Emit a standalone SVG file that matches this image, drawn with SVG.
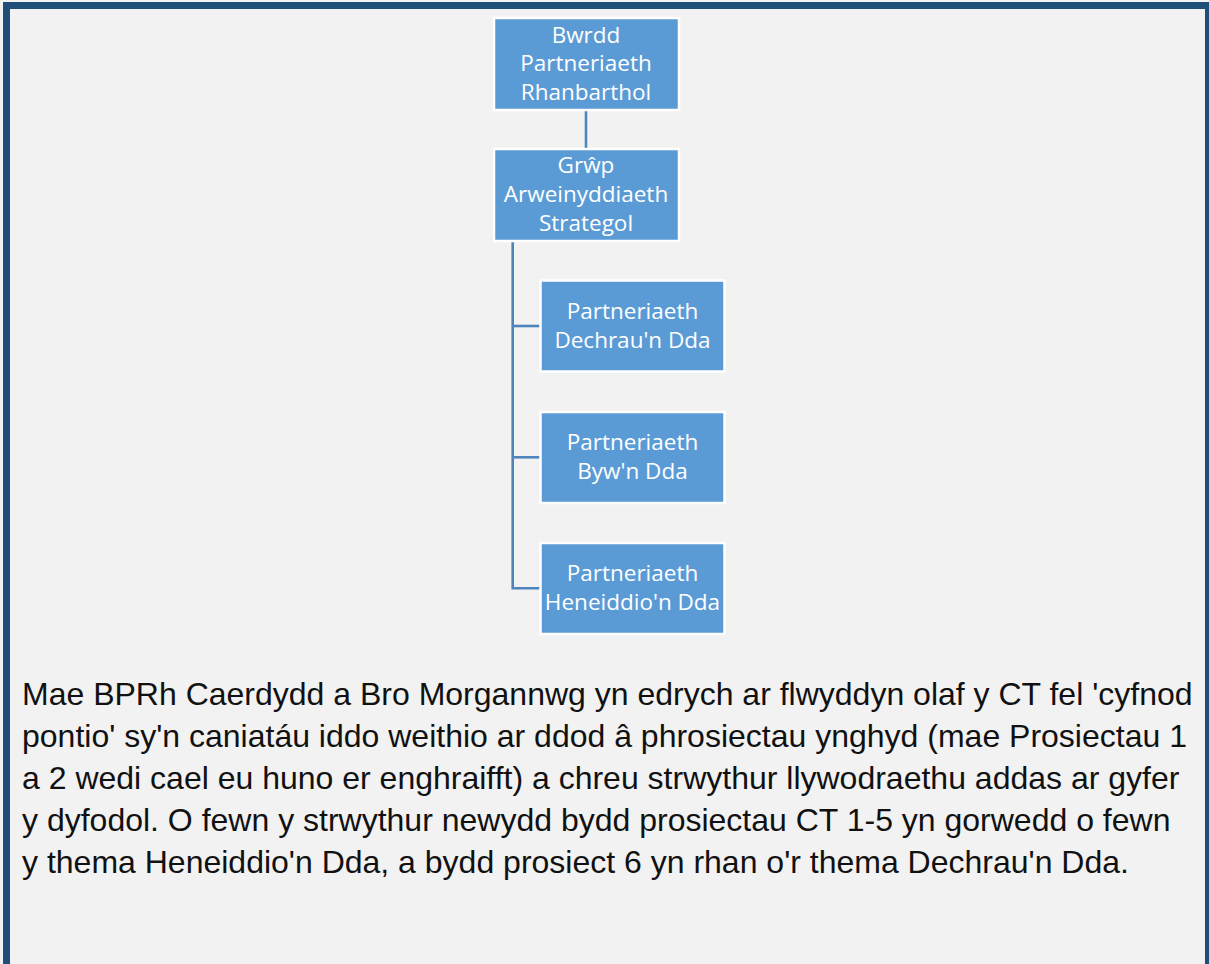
<svg xmlns="http://www.w3.org/2000/svg" width="1209" height="964" viewBox="0 0 1209 964">
<style>
.box{fill:#5b9bd5;stroke:#ffffff;stroke-width:2.5}
.bt{font-family:"Open Sans","Noto Sans",sans-serif;font-size:22.5px;fill:#ffffff;text-anchor:middle}
.conn{stroke:#4f83bd;stroke-width:2.6;fill:none}
.body{font-family:"Liberation Sans",Arial,sans-serif;font-size:32px;fill:#111111}
.frame{fill:#1f4e79}
</style>
<rect x="0" y="0" width="1209" height="964" fill="#f2f2f2"/>
<rect class="frame" x="3" y="2" width="1206" height="7"/>
<rect class="frame" x="3" y="2" width="7" height="962"/>
<rect class="frame" x="1205" y="2" width="4" height="962"/>
<g id="connectors">
<line class="conn" x1="586" y1="111" x2="586" y2="148"/>
<polyline class="conn" points="512.7,242 512.7,588.3 540,588.3"/>
<line class="conn" x1="512.7" y1="326" x2="540" y2="326"/>
<line class="conn" x1="512.7" y1="457.3" x2="540" y2="457.3"/>
</g>
<g id="node-bwrdd">
<rect class="box" x="494" y="18" width="185" height="92"/>
<text class="bt" x="586" y="42.7">Bwrdd</text>
<text class="bt" x="586" y="71">Partneriaeth</text>
<text class="bt" x="586" y="100">Rhanbarthol</text>
</g>
<g id="node-grwp">
<rect class="box" x="494" y="149" width="185" height="92"/>
<text class="bt" x="586" y="172.7">Grŵp</text>
<text class="bt" x="586" y="201.7">Arweinyddiaeth</text>
<text class="bt" x="586" y="231">Strategol</text>
</g>
<g id="node-dechrau">
<rect class="box" x="540.5" y="280.5" width="184" height="91"/>
<text class="bt" x="632.5" y="319.3">Partneriaeth</text>
<text class="bt" x="632.5" y="347.7">Dechrau'n Dda</text>
</g>
<g id="node-byw">
<rect class="box" x="540.5" y="412" width="184" height="91"/>
<text class="bt" x="632.5" y="450">Partneriaeth</text>
<text class="bt" x="632.5" y="479">Byw'n Dda</text>
</g>
<g id="node-heneiddio">
<rect class="box" x="540.5" y="543" width="184" height="91"/>
<text class="bt" x="632.5" y="581">Partneriaeth</text>
<text class="bt" x="632.5" y="610">Heneiddio'n Dda</text>
</g>
<g id="body-text">
<text class="body" x="22" y="705">Mae BPRh Caerdydd a Bro Morgannwg yn edrych ar flwyddyn olaf y CT fel 'cyfnod</text>
<text class="body" x="22" y="747">pontio' sy'n caniatáu iddo weithio ar ddod â phrosiectau ynghyd (mae Prosiectau 1</text>
<text class="body" x="22" y="789">a 2 wedi cael eu huno er enghraifft) a chreu strwythur llywodraethu addas ar gyfer</text>
<text class="body" x="22" y="831">y dyfodol. O fewn y strwythur newydd bydd prosiectau CT 1-5 yn gorwedd o fewn</text>
<text class="body" x="22" y="873">y thema Heneiddio'n Dda, a bydd prosiect 6 yn rhan o'r thema Dechrau'n Dda.</text>
</g>
</svg>
